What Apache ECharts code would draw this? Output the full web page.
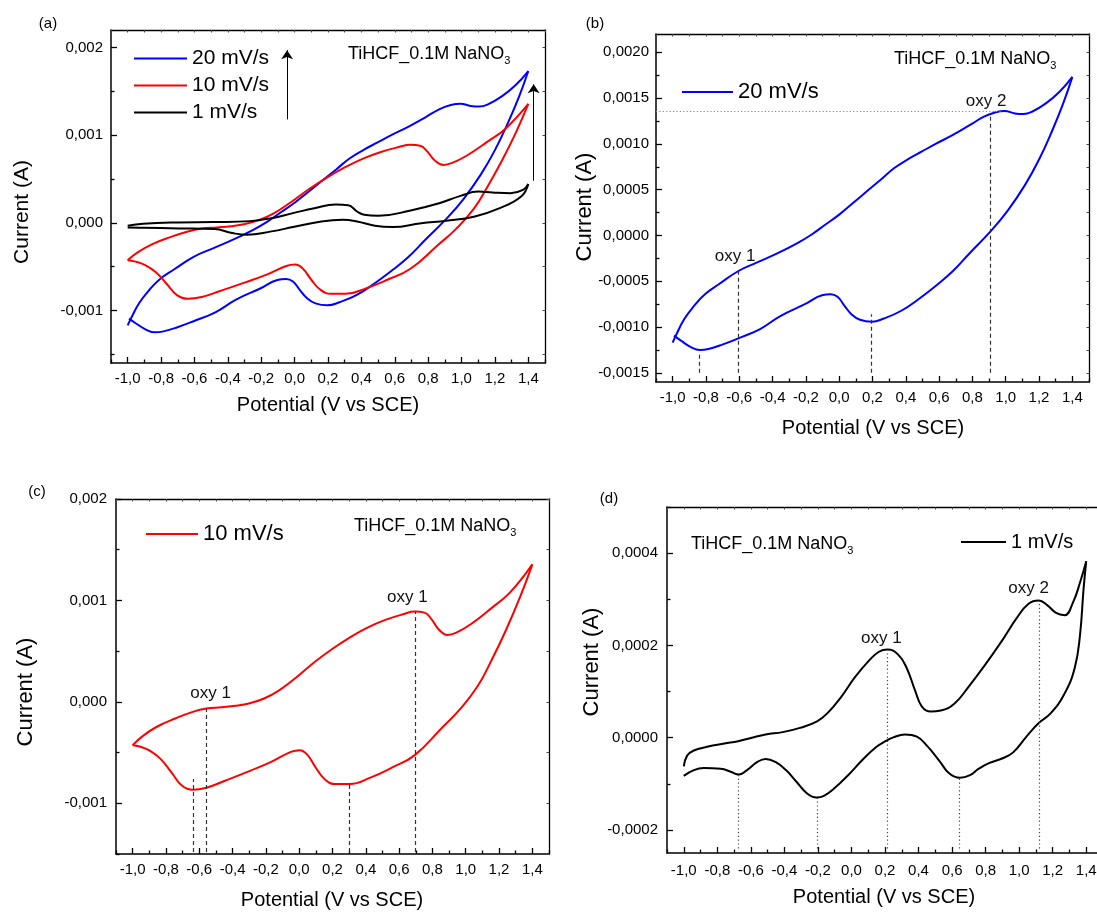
<!DOCTYPE html>
<html>
<head>
<meta charset="utf-8">
<script src="https://cdn.jsdelivr.net/npm/echarts@6.0.0/dist/echarts.min.js"></script>
<style>
  html, body { margin: 0; padding: 0; background: #fff; }
  #chart { width: 1097px; height: 914px; }
</style>
</head>
<body>
<div id="chart"></div>
<script>
// Potential axis tick labels (V vs SCE), shared by all four panels
const potentialTicks = [-1.0, -0.8, -0.6, -0.4, -0.2, 0.0, 0.2, 0.4, 0.6, 0.8, 1.0, 1.2, 1.4];
// Current axis tick labels (A) for panels a-d
const currentTicksA = [-0.001, 0, 0.001, 0.002];
const currentTicksB = [-0.0015, -0.001, -0.0005, 0, 0.0005, 0.001, 0.0015, 0.002];
const currentTicksC = [-0.001, 0, 0.001, 0.002];
const currentTicksD = [-0.0002, 0, 0.0002, 0.0004];

// 20 mV/s cycle, [potential V, current A]: forward (anodic) and reverse (cathodic) scans
const scan20Forward = [
  [-1.0, -0.00117], [-0.981, -0.001094], [-0.930, -0.000913], [-0.868, -0.000761], [-0.806, -0.000641],
  [-0.723, -0.000533], [-0.605, -0.000388], [-0.496, -0.000297], [-0.372, -0.000196], [-0.248, -0.00008],
  [-0.165, 0.000011], [-0.082, 0.00012], [0.0, 0.000228], [0.083, 0.000355], [0.166, 0.000482],
  [0.249, 0.000609], [0.331, 0.000736], [0.414, 0.000833], [0.497, 0.000917], [0.579, 0.001],
  [0.683, 0.001098], [0.786, 0.001207], [0.869, 0.001297], [0.931, 0.001341], [0.993, 0.001359],
  [1.055, 0.001333], [1.106, 0.001326], [1.158, 0.001351], [1.241, 0.001442], [1.323, 0.001569],
  [1.4, 0.001732]
];
const scan20Reverse = [
  [1.4, 0.001732], [1.344, 0.001436], [1.282, 0.001157], [1.2, 0.000829], [1.117, 0.000555],
  [1.013, 0.000274], [0.91, 0.000047], [0.786, -0.000188], [0.683, -0.000388], [0.579, -0.000551],
  [0.476, -0.000696], [0.373, -0.000822], [0.269, -0.000906], [0.197, -0.000942], [0.125, -0.00092],
  [0.073, -0.000859], [0.032, -0.000768], [-0.01, -0.00067], [-0.051, -0.000641], [-0.103, -0.000652],
  [-0.206, -0.00075], [-0.351, -0.000877], [-0.475, -0.001022], [-0.605, -0.001123], [-0.702, -0.001192],
  [-0.785, -0.001239], [-0.837, -0.00125], [-0.888, -0.001221], [-0.95, -0.001149], [-0.992, -0.001094]
];

// 10 mV/s cycle
const scan10Forward = [
  [-1.0, -0.000427], [-0.938, -0.000335], [-0.852, -0.000243], [-0.745, -0.000164], [-0.639, -0.000099],
  [-0.557, -0.000066], [-0.467, -0.000053], [-0.382, -0.000039], [-0.296, -0.000013], [-0.211, 0.000033],
  [-0.125, 0.000108], [-0.018, 0.00024], [0.089, 0.000388], [0.196, 0.000519], [0.303, 0.000634],
  [0.41, 0.000732], [0.517, 0.000808], [0.624, 0.000864], [0.694, 0.00089], [0.752, 0.00088],
  [0.795, 0.000814], [0.837, 0.000716], [0.891, 0.00066], [0.944, 0.000683], [1.03, 0.000765],
  [1.158, 0.000929], [1.265, 0.001077], [1.4, 0.001356]
];
const scan10Reverse = [
  [1.4, 0.001356], [1.329, 0.001044], [1.244, 0.000716], [1.158, 0.00042], [1.073, 0.000158],
  [0.966, -0.000072], [0.859, -0.000253], [0.694, -0.000525], [0.559, -0.000647], [0.431, -0.000745],
  [0.303, -0.000811], [0.217, -0.000811], [0.153, -0.000762], [0.099, -0.000647], [0.046, -0.000516],
  [0.003, -0.000476], [-0.05, -0.000493], [-0.168, -0.000591], [-0.296, -0.00068], [-0.446, -0.000778],
  [-0.557, -0.000847], [-0.639, -0.000867], [-0.703, -0.000828], [-0.767, -0.000696], [-0.831, -0.000565],
  [-0.895, -0.000483], [-0.959, -0.00044], [-1.0, -0.000427]
];

// 1 mV/s cycle (panel d)
const scan1Forward = [
  [-1.0, -0.0000623], [-0.98, -0.0000389], [-0.943, -0.0000283], [-0.861, -0.0000198], [-0.758, -0.0000127],
  [-0.676, -0.0000078], [-0.594, 0.0], [-0.512, 0.0000071], [-0.41, 0.000012], [-0.307, 0.0000212],
  [-0.205, 0.0000354], [-0.143, 0.0000531], [-0.061, 0.0000885], [0.021, 0.000131], [0.103, 0.0001664],
  [0.164, 0.0001862], [0.215, 0.0001911], [0.277, 0.0001805], [0.328, 0.0001522], [0.379, 0.0001027],
  [0.42, 0.0000673], [0.472, 0.0000566], [0.533, 0.0000588], [0.615, 0.0000743], [0.697, 0.0001097],
  [0.8, 0.0001593], [0.902, 0.0002124], [0.984, 0.0002584], [1.056, 0.0002903], [1.117, 0.0002973],
  [1.169, 0.0002867], [1.22, 0.0002704], [1.271, 0.0002655], [1.322, 0.0002938], [1.363, 0.0003363],
  [1.4, 0.0003823]
];
const scan1Reverse = [
  [1.4, 0.0003823], [1.384, 0.0003221], [1.363, 0.000223], [1.332, 0.0001522], [1.271, 0.0000956],
  [1.189, 0.0000531], [1.117, 0.0000319], [1.046, 0.0000035], [0.964, -0.0000319], [0.902, -0.0000446],
  [0.82, -0.0000552], [0.759, -0.0000673], [0.707, -0.0000814], [0.646, -0.0000871], [0.584, -0.0000779],
  [0.523, -0.0000496], [0.451, -0.0000177], [0.39, 0.0000021], [0.318, 0.0000071], [0.246, 0.0],
  [0.205, -0.0000071], [0.144, -0.0000212], [0.062, -0.0000496], [-0.02, -0.0000814], [-0.102, -0.0001097],
  [-0.164, -0.000126], [-0.209, -0.0001296], [-0.266, -0.0001204], [-0.328, -0.0000956], [-0.389, -0.0000708],
  [-0.451, -0.0000531], [-0.512, -0.000046], [-0.563, -0.0000531], [-0.625, -0.0000708], [-0.672, -0.00008],
  [-0.717, -0.0000743], [-0.779, -0.0000673], [-0.881, -0.0000658], [-0.943, -0.0000708], [-1.0, -0.0000828]
];

// 1 mV/s cycle as overlaid in the comparison panel (a)
const scan1OverlayForward = [
  [-1.0, -0.000034], [-0.908, -0.000011], [-0.694, 0.000004], [-0.481, 0.000008], [-0.267, 0.000019],
  [-0.139, 0.000053], [-0.01, 0.00011], [0.118, 0.000167], [0.246, 0.000208], [0.321, 0.000201],
  [0.374, 0.000129], [0.417, 0.000091], [0.502, 0.00008], [0.695, 0.00014], [0.866, 0.000223],
  [0.994, 0.000307], [1.101, 0.000356], [1.186, 0.000345], [1.293, 0.000337], [1.368, 0.000375],
  [1.4, 0.000443]
];
const scan1OverlayReverse = [
  [1.4, 0.000443], [1.357, 0.000299], [1.229, 0.000167], [1.08, 0.000072], [0.909, 0.000023],
  [0.759, -0.000004], [0.588, -0.000049], [0.481, -0.000034], [0.374, 0.000015], [0.289, 0.000034],
  [0.16, 0.000015], [-0.01, -0.000049], [-0.139, -0.000098], [-0.288, -0.000136], [-0.374, -0.000117],
  [-0.481, -0.000072], [-0.694, -0.000064], [-0.908, -0.000057], [-1.0, -0.000053]
];

// Peak guide lines: [potential, current at bottom, current at top]
const peakGuidesB = [[-0.843, -0.0015, -0.00127], [-0.605, -0.0015, -0.00039], [0.19, -0.0015, -0.00086], [0.908, -0.0015, 0.00133]];
const peakGuidesC = [[-0.639, -0.00148, -0.00076], [-0.557, -0.00148, -0.000066], [0.298, -0.00148, -0.0008], [0.694, -0.00148, 0.00089]];
const peakGuidesD = [[-0.676, -0.00024, -0.00008], [-0.205, -0.00024, -0.000131], [0.215, -0.00024, 0.000184], [0.642, -0.00024, -0.0000885], [1.121, -0.00024, 0.000297]];
// Level of the oxy 2 current in panel b: [current, potential where it ends]
const oxy2LevelB = [0.001359, 0.97];
// Peak labels: [potential, current, text]
const peakLabelsB = [[-0.625, -0.00023, 'oxy 1'], [0.882, 0.00147, 'oxy 2']];
const peakLabelsC = [[-0.532, 0.000085, 'oxy 1'], [0.649, 0.00103, 'oxy 1']];
const peakLabelsD = [[0.178, 0.000215, 'oxy 1'], [1.056, 0.000324, 'oxy 2']];
// Scan-rate arrows in panel a: [potential, current at tail, current at head]
const rateArrows = [[-0.045, 0.00118, 0.00197], [1.432, 0.00048, 0.00158]];

const FONT = "'Liberation Sans', Arial, Helvetica, sans-serif";
const X_MIN = -1.1, X_MAX = 1.5;
const BLUE = '#0000ff', RED = '#ff0000', BLACK = '#000000';

function fmt(v, digits) { return v.toFixed(digits).replace('.', ','); }

// minor ticks halfway between labelled ticks, kept inside the axis range
function halfSteps(ticks, lo, hi) {
  const step = ticks[1] - ticks[0];
  const out = [];
  const eps = step * 1e-6;
  if (ticks[0] - step / 2 >= lo - eps) out.push(ticks[0] - step / 2);
  for (let i = 0; i < ticks.length - 1; i++) out.push((ticks[i] + ticks[i + 1]) / 2);
  const last = ticks[ticks.length - 1] + step / 2;
  if (last <= hi + eps) out.push(last);
  return out;
}

const grids = [
  { left: 111, top: 30, width: 434, height: 333, outerBoundsMode: 'none' },
  { left: 656, top: 34, width: 433, height: 348, outerBoundsMode: 'none' },
  { left: 116, top: 499, width: 433, height: 355, outerBoundsMode: 'none' },
  { left: 667, top: 507, width: 436, height: 346, outerBoundsMode: 'none' }
];

const xAxes = [], yAxes = [];
const frame = { color: '#000', width: 1.5 };

function addPanelAxes(g, yMin, yMax, yTicks, yDigits, yMargin, xMargin) {
  const base = {
    gridIndex: g, type: 'value', splitLine: { show: false },
    axisLine: { show: false, onZero: false }, axisLabel: { show: false }, axisTick: { show: false }
  };
  const xMinor = halfSteps(potentialTicks, X_MIN, X_MAX);
  const yMinor = halfSteps(yTicks, yMin, yMax);
  const xi = xAxes.length, yi = yAxes.length;
  const labelStyle = { show: true, fontSize: 15, fontFamily: FONT, color: '#000' };

  xAxes.push(Object.assign({}, base, {
    position: 'bottom', min: X_MIN, max: X_MAX,
    axisLine: { show: true, onZero: false, lineStyle: frame },
    axisTick: { show: true, inside: true, length: 6, customValues: potentialTicks, lineStyle: { color: '#000', width: 1.3 } },
    axisLabel: Object.assign({}, labelStyle, { customValues: potentialTicks, margin: xMargin, formatter: v => fmt(v, 1) })
  }));
  xAxes.push(Object.assign({}, base, {
    position: 'bottom', min: X_MIN, max: X_MAX,
    axisTick: { show: true, inside: true, length: 3.5, customValues: xMinor, lineStyle: { color: '#000', width: 1.3 } }
  }));
  xAxes.push(Object.assign({}, base, {
    position: 'top', min: X_MIN, max: X_MAX,
    axisLine: { show: true, onZero: false, lineStyle: { color: '#000', width: 1.3 } },
    axisTick: { show: true, inside: true, length: 2.5, customValues: potentialTicks.concat(xMinor), lineStyle: { color: '#444', width: 1 } }
  }));

  yAxes.push(Object.assign({}, base, {
    position: 'left', min: yMin, max: yMax,
    axisLine: { show: true, onZero: false, lineStyle: frame },
    axisTick: { show: true, inside: true, length: 6, customValues: yTicks, lineStyle: { color: '#000', width: 1.3 } },
    axisLabel: Object.assign({}, labelStyle, { customValues: yTicks, margin: yMargin, formatter: v => fmt(v, yDigits) })
  }));
  yAxes.push(Object.assign({}, base, {
    position: 'left', min: yMin, max: yMax,
    axisTick: { show: true, inside: true, length: 3.5, customValues: yMinor, lineStyle: { color: '#000', width: 1.3 } }
  }));
  yAxes.push(Object.assign({}, base, {
    position: 'right', min: yMin, max: yMax,
    axisLine: { show: true, onZero: false, lineStyle: { color: '#000', width: 1.3 } },
    axisTick: { show: true, inside: true, length: 2.5, customValues: yTicks.concat(yMinor), lineStyle: { color: '#444', width: 1 } }
  }));
  return { x: xi, y: yi };
}

const axA = addPanelAxes(0, -0.0016, 0.0022, currentTicksA, 3, 8, 8);
const axB = addPanelAxes(1, -0.0016, 0.0022, currentTicksB, 4, 7, 8);
const axC = addPanelAxes(2, -0.0015, 0.002, currentTicksC, 3, 9, 8);
const axD = addPanelAxes(3, -0.00025, 0.0005, currentTicksD, 4, 9, 10);

function curve(name, data, color, ax, extra) {
  return Object.assign({
    type: 'line', name: name, data: data,
    xAxisIndex: ax.x, yAxisIndex: ax.y,
    smooth: 0.45, symbol: 'none', silent: true,
    lineStyle: { color: color, width: 2 }, itemStyle: { color: color },
    animation: false
  }, extra || {});
}

function guideLines(guides, style) {
  return guides.map(g => [
    { coord: [g[0], g[1]], lineStyle: style },
    { coord: [g[0], g[2]] }
  ]);
}

function peakMarks(labels) {
  return {
    symbol: 'circle', symbolSize: 0, silent: true, animation: false,
    label: { show: true, position: 'inside', formatter: '{b}', fontSize: 17, fontFamily: FONT, color: '#111' },
    data: labels.map(p => ({ name: p[2], coord: [p[0], p[1]] }))
  };
}

const dashed = { color: '#333', type: [4, 3], width: 1.2 };
const dotted = { color: '#444', type: [1.2, 2.6], width: 1.2 };

const series = [
  // (a) all scan rates together
  curve('20 mV/s', scan20Forward, BLUE, axA),
  curve('20 mV/s', scan20Reverse, BLUE, axA),
  curve('10 mV/s', scan10Forward, RED, axA),
  curve('10 mV/s', scan10Reverse, RED, axA),
  curve('1 mV/s', scan1OverlayForward, BLACK, axA),
  curve('1 mV/s', scan1OverlayReverse, BLACK, axA, {
    markLine: {
      silent: true, animation: false, symbol: ['none', 'arrow'], symbolSize: 9,
      label: { show: false }, lineStyle: { color: '#000', type: 'solid', width: 1 },
      data: rateArrows.map(a => [
        { coord: [a[0], a[1]], symbol: 'none' },
        { coord: [a[0], a[2]], symbol: 'arrow', symbolSize: 9 }
      ])
    }
  }),
  // (b) 20 mV/s
  curve('20 mV/s', scan20Forward, BLUE, axB),
  curve('20 mV/s', scan20Reverse, BLUE, axB, {
    markLine: {
      silent: true, animation: false, symbol: ['none', 'none'], label: { show: false },
      data: guideLines(peakGuidesB, dashed).concat([[
        { coord: [X_MIN, oxy2LevelB[0]], lineStyle: { color: '#888', type: [1.2, 2.2], width: 1 } },
        { coord: [oxy2LevelB[1], oxy2LevelB[0]] }
      ]])
    },
    markPoint: peakMarks(peakLabelsB)
  }),
  // (c) 10 mV/s
  curve('10 mV/s', scan10Forward, RED, axC),
  curve('10 mV/s', scan10Reverse, RED, axC, {
    markLine: {
      silent: true, animation: false, symbol: ['none', 'none'], label: { show: false },
      data: guideLines(peakGuidesC, dashed)
    },
    markPoint: peakMarks(peakLabelsC)
  }),
  // (d) 1 mV/s
  curve('1 mV/s', scan1Forward, BLACK, axD),
  curve('1 mV/s', scan1Reverse, BLACK, axD, {
    markLine: {
      silent: true, animation: false, symbol: ['none', 'none'], label: { show: false },
      data: guideLines(peakGuidesD, dotted)
    },
    markPoint: peakMarks(peakLabelsD)
  })
];

function legendBox(names, left, top, fontSize, itemWidth, gap) {
  return {
    orient: 'vertical', left: left, top: top, padding: 0, itemGap: gap || 6,
    itemWidth: itemWidth, itemHeight: 2, icon: 'rect', selectedMode: false,
    textStyle: { fontSize: fontSize, fontFamily: FONT, color: '#000' },
    data: names
  };
}

const legends = [
  legendBox(['20 mV/s', '10 mV/s', '1 mV/s'], 134, 48, 21, 53, 6),
  legendBox(['20 mV/s'], 682, 81, 22, 51),
  legendBox(['10 mV/s'], 146, 523, 22, 52),
  legendBox(['1 mV/s'], 961, 532, 20, 45)
];

function label(x, y, text, size, rotate) {
  return {
    type: 'text', x: x, y: y, rotation: rotate ? Math.PI / 2 : 0, silent: true,
    style: { text: text, fontSize: size, fontFamily: FONT, fill: '#000', align: 'center', verticalAlign: 'middle' }
  };
}

function sampleTag(x, y) {
  return {
    type: 'text', x: x, y: y, silent: true,
    style: {
      text: '{m|TiHCF_0.1M NaNO}{s|3}', align: 'left', verticalAlign: 'middle',
      rich: {
        m: { fontSize: 18, fontFamily: FONT, fill: '#000', lineHeight: 18, verticalAlign: 'top' },
        s: { fontSize: 11, fontFamily: FONT, fill: '#000', lineHeight: 11, verticalAlign: 'top', padding: [10, 0, 0, 0] }
      }
    }
  };
}

const graphics = [
  label(48, 24, '(a)', 15), label(595, 24, '(b)', 15), label(37, 492, '(c)', 15), label(609, 499, '(d)', 15),
  label(328, 405, 'Potential (V vs SCE)', 20), label(873, 428, 'Potential (V vs SCE)', 20),
  label(332, 900, 'Potential (V vs SCE)', 20), label(884, 897, 'Potential (V vs SCE)', 20),
  label(22, 212, 'Current (A)', 21, true), label(585, 207, 'Current (A)', 22, true),
  label(26, 692, 'Current (A)', 22, true), label(592, 662, 'Current (A)', 22, true),
  sampleTag(348, 54), sampleTag(894, 59), sampleTag(354, 526), sampleTag(691, 544)
];

const chart = echarts.init(document.getElementById('chart'), null, { renderer: 'canvas' });
chart.setOption({
  backgroundColor: '#fff',
  animation: false,
  grid: grids,
  xAxis: xAxes,
  yAxis: yAxes,
  legend: legends,
  series: series,
  graphic: graphics
});
</script>
</body>
</html>
